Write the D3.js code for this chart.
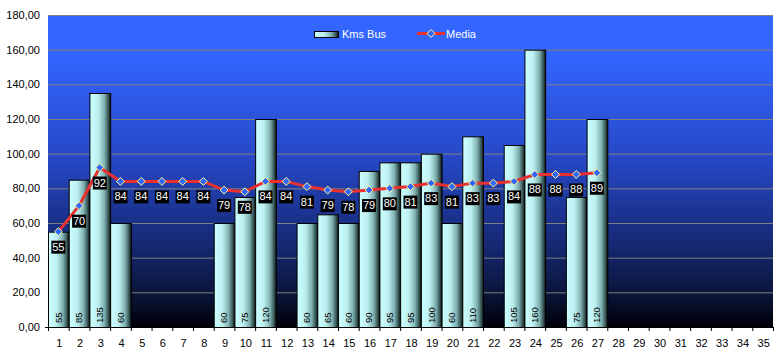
<!DOCTYPE html>
<html><head><meta charset="utf-8">
<script src="https://cdn.jsdelivr.net/npm/d3@7"></script>
<style>body{margin:0;background:#fff;}svg{display:block;font-family:"Liberation Sans",Arial,sans-serif;}</style>
</head><body><svg id="c" width="778" height="359"></svg>
<script>
const categories = d3.range(1, 36);
const kmsBus = [55,85,135,60,null,null,null,null,60,75,120,null,60,65,60,90,95,95,100,60,110,null,105,160,null,75,120];
const media = [55,70,92,84,84,84,84,84,79,78,84,84,81,79,78,79,80,81,83,81,83,83,84,88,88,88,89];
const yTicks = [0,20,40,60,80,100,120,140,160,180];
const seriesNames = ["Kms Bus","Media"];

const svg = d3.select("#c");
const W = 778, H = 359;
const m = {l:48, r:5, t:15, b:32};
const x = d3.scaleBand().domain(categories).range([m.l, W - m.r]).padding(0);
const y = d3.scaleLinear().domain([0,180]).range([H - m.b, m.t]);
const fmt = v => d3.format(".2f")(v).replace(".", ",");

const defs = svg.append("defs");
const bg = defs.append("linearGradient").attr("id","bg").attr("x1",0).attr("y1",0).attr("x2",0).attr("y2",1);
[[0,"#3366ff"],[0.12,"#3366ff"],[0.45,"#2749c8"],[0.72,"#162a78"],[0.9,"#0a1438"],[1,"#000008"]].forEach(s=>bg.append("stop").attr("offset",s[0]).attr("stop-color",s[1]));
const bar = defs.append("linearGradient").attr("id","bar").attr("x1",0).attr("y1",0).attr("x2",1).attr("y2",0);
[[0,"#ccffff"],[0.4,"#bcf0f0"],[0.7,"#80b0b0"],[0.88,"#3a5a5a"],[1,"#081010"]].forEach(s=>bar.append("stop").attr("offset",s[0]).attr("stop-color",s[1]));

// plot background
svg.append("rect").attr("x", m.l).attr("y", y(180)).attr("width", x.range()[1]-m.l).attr("height", y(0)-y(180)).attr("fill","url(#bg)");

// gridlines
svg.append("g").selectAll("line").data(yTicks.filter(d=>d>0)).join("line")
  .attr("x1", m.l).attr("x2", x.range()[1]).attr("y1", d=>y(d)+0.5).attr("y2", d=>y(d)+0.5)
  .attr("stroke","#808080").attr("stroke-width",1);

// y labels
svg.append("g").selectAll("text").data(yTicks).join("text")
  .attr("x", 40).attr("y", d=>y(d)).attr("dy","0.35em").attr("text-anchor","end")
  .attr("font-size", 11).attr("fill","#000").text(fmt);

// bars
const barData = kmsBus.map((v,i)=>({c:categories[i], v})).filter(d=>d.v!=null);
svg.append("g").selectAll("rect").data(barData).join("rect")
  .attr("x", d=>x(d.c)+0.5).attr("y", d=>y(d.v)+0.5)
  .attr("width", x.bandwidth()).attr("height", d=>y(0)-y(d.v))
  .attr("fill","url(#bar)").attr("stroke","#000").attr("stroke-width",1);

// bar labels
svg.append("g").selectAll("text").data(barData).join("text")
  .attr("transform", d=>`translate(${x(d.c)+x.bandwidth()/2},${y(0)-4}) rotate(-90)`)
  .attr("dy","0.35em").attr("font-size", 9.5).attr("fill","#000").text(d=>d.v);

// x axis
const xa = svg.append("g");
xa.append("line").attr("x1", m.l-3).attr("x2", x.range()[1]).attr("y1", y(0)+0.5).attr("y2", y(0)+0.5).attr("stroke","#000");
xa.selectAll("line.t").data(categories.concat([36])).join("line").attr("class","t")
  .attr("x1", d=> (d<=35? x(d): x.range()[1]) +0.5).attr("x2", d=>(d<=35? x(d): x.range()[1])+0.5)
  .attr("y1", y(0)).attr("y2", y(0)+4).attr("stroke","#000");
xa.selectAll("text").data(categories).join("text")
  .attr("x", d=>x(d)+x.bandwidth()/2+1).attr("y", 343).attr("dy","0.35em").attr("text-anchor","middle")
  .attr("font-size", 11).attr("fill","#000").text(d=>d);

// media line
const mData = media.map((v,i)=>({c:categories[i], v}));
const line = d3.line().x(d=>x(d.c)+x.bandwidth()/2).y(d=>y(d.v));
svg.append("path").datum(mData).attr("d", line).attr("fill","none").attr("stroke","#e83030").attr("stroke-width",3);
const diamond = d3.symbol().type(d3.symbolDiamond2).size(40);
svg.append("g").selectAll("path").data(mData).join("path")
  .attr("transform", d=>`translate(${x(d.c)+x.bandwidth()/2},${y(d.v)})`)
  .attr("d", diamond).attr("fill","#3366ff").attr("stroke","#ffff90").attr("stroke-width",1);

// media labels
const lg = svg.append("g").selectAll("g").data(mData).join("g")
  .attr("transform", d=>`translate(${x(d.c)+x.bandwidth()/2},${y(d.v)+15})`);
lg.append("rect").attr("x",-7).attr("y",-6).attr("width",14).attr("height",13).attr("fill","#000");
lg.append("text").attr("text-anchor","middle").attr("dy","0.36em").attr("font-size",11).attr("fill","#fff").text(d=>d.v);

// legend
const leg = svg.append("g");
leg.append("rect").attr("x",314.5).attr("y",31.5).attr("width",24).attr("height",6).attr("fill","url(#bar)").attr("stroke","#000");
leg.append("text").attr("x",342).attr("y",34.5).attr("dy","0.35em").attr("font-size",11).attr("fill","#fff").text(seriesNames[0]);
leg.append("line").attr("x1",417).attr("x2",445).attr("y1",33.5).attr("y2",33.5).attr("stroke","#e83030").attr("stroke-width",3);
leg.append("path").attr("transform","translate(431,33.5)").attr("d", diamond).attr("fill","#3366ff").attr("stroke","#ffff90");
leg.append("text").attr("x",446).attr("y",34.5).attr("dy","0.35em").attr("font-size",11).attr("fill","#fff").text(seriesNames[1]);
</script></body></html>
